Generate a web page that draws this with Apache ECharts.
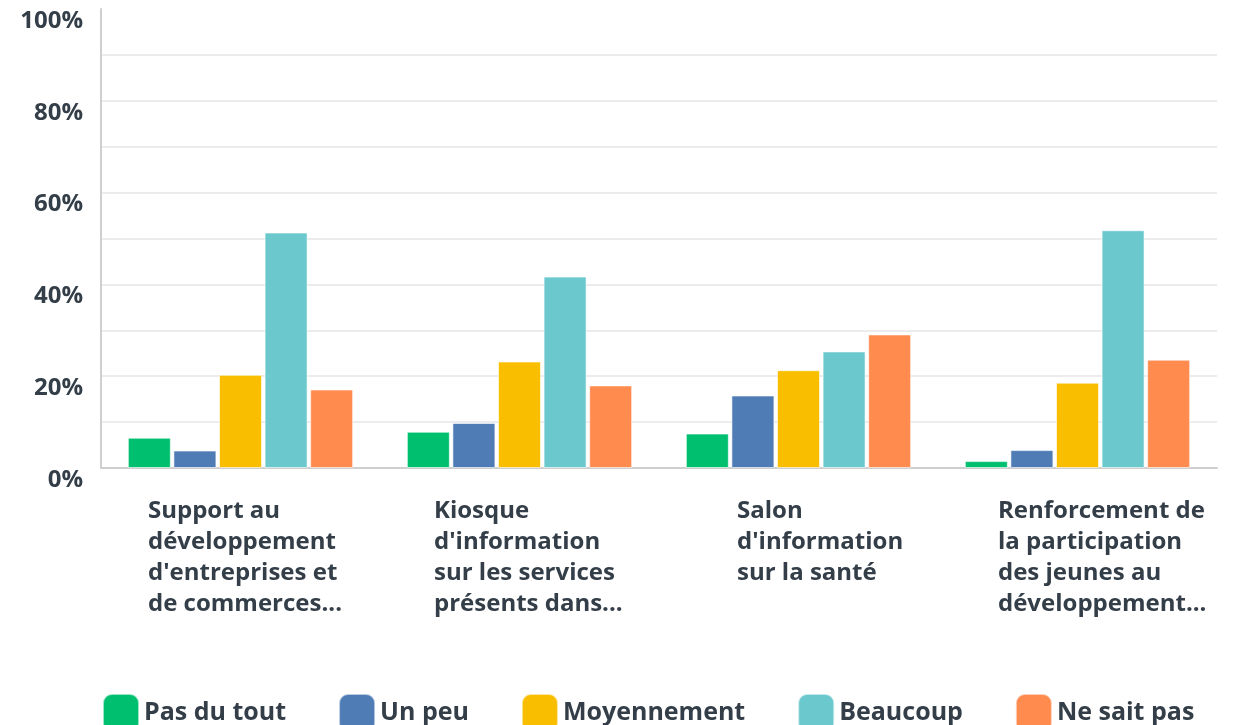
<!DOCTYPE html>
<html>
<head>
<meta charset="utf-8">
<script src="https://cdn.jsdelivr.net/npm/echarts@6/dist/echarts.min.js"></script>
<style>
  html, body { margin: 0; padding: 0; background: #fff; }
  #chart { width: 1233px; height: 725px; }
</style>
</head>
<body>
<div id="chart"></div>
<script>
  // categories (already wrapped the way the survey tool shows them)
  const categories = [
    'Support au\ndéveloppement\nd\'entreprises et\nde commerces...',
    'Kiosque\nd\'information\nsur les services\nprésents dans...',
    'Salon\nd\'information\nsur la santé',
    'Renforcement de\nla participation\ndes jeunes au\ndéveloppement...'
  ];
  const seriesNames = ['Pas du tout', 'Un peu', 'Moyennement', 'Beaucoup', 'Ne sait pas'];
  const colors = ['#00bf6f', '#507cb6', '#f9be00', '#6bc8cd', '#ff8b4f'];

  // % per answer, one value per category
  const pasDuTout   = [6.6, 7.9, 7.5, 1.5];
  const unPeu       = [3.8, 9.8, 15.8, 3.9];
  const moyennement = [20.3, 23.2, 21.3, 18.6];
  const beaucoup    = [51.3, 41.7, 25.4, 51.8];
  const neSaitPas   = [17.1, 18.0, 29.1, 23.6];
  const values = [pasDuTout, unPeu, moyennement, beaucoup, neSaitPas];

  const textColor = '#333e48';
  const font = '"Open Sans", sans-serif';

  // label block layout: left spacer per category so the text starts where the original does
  const labelBoxW = 220;
  const labelSpacer = [35, 49, 97, 61];

  const chart = echarts.init(document.getElementById('chart'));

  // hide the gridline at 100%
  const gridColors = [];
  for (let i = 0; i < 10; i++) gridColors.push('#ececec');
  gridColors.push('rgba(0,0,0,0)');

  const labelRich = {
    a: {
      width: labelBoxW,
      align: 'left',
      color: textColor,
      fontSize: 24,
      fontWeight: 'bold',
      fontFamily: font,
      lineHeight: 31
    }
  };
  labelSpacer.forEach(function (w, i) {
    labelRich['p' + i] = { width: w, align: 'left', lineHeight: 31, fontSize: 24 };
  });

  chart.setOption({
    backgroundColor: '#fff',
    animation: false,
    color: colors,
    grid: { left: 101, right: 16, top: 9, bottom: 257 },
    legend: {
      left: 97,
      top: 688,
      icon: 'roundRect',
      itemWidth: 36,
      itemHeight: 38,
      itemGap: 52,
      data: seriesNames,
      textStyle: { color: textColor, fontSize: 25, fontWeight: 'bold', fontFamily: font }
    },
    xAxis: {
      type: 'category',
      data: categories,
      axisTick: { show: false },
      axisLine: { lineStyle: { color: '#cfcfcf', width: 2 } },
      axisLabel: {
        interval: 0,
        margin: 28,
        align: 'center',
        formatter: function (v, idx) {
          return v.split('\n').map(function (s) {
            return '{p' + idx + '| }{a|' + s + '}';
          }).join('\n');
        },
        rich: labelRich
      }
    },
    yAxis: {
      type: 'value',
      min: 0,
      max: 100,
      interval: 10,
      axisLine: { show: true, lineStyle: { color: '#cfcfcf', width: 2 } },
      axisTick: { show: false },
      splitLine: { lineStyle: { color: gridColors, width: 2 } },
      axisLabel: {
        margin: 18,
        verticalAlign: 'top',
        color: textColor,
        fontSize: 24,
        fontWeight: 'bold',
        fontFamily: font,
        formatter: function (v) { return v % 20 === 0 ? v + '%' : ''; }
      }
    },
    series: seriesNames.map(function (name, i) {
      return {
        name: name,
        type: 'bar',
        data: values[i],
        barWidth: 43,
        barGap: '6%',
        itemStyle: { color: colors[i], borderColor: 'rgba(255,255,255,0.6)', borderWidth: 1 }
      };
    })
  });
</script>
</body>
</html>
